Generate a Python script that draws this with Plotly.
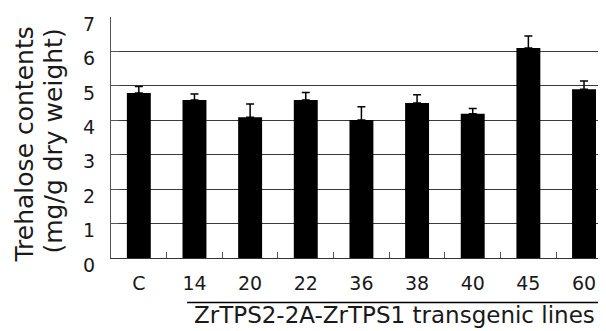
import plotly.graph_objects as go

categories = ["C", "14", "20", "22", "36", "38", "40", "45", "60"]
trehalose = [4.79, 4.59, 4.09, 4.59, 4.01, 4.50, 4.19, 6.10, 4.90]
errors = [0.19, 0.17, 0.38, 0.22, 0.38, 0.24, 0.15, 0.35, 0.24]
y_ticks = [0, 1, 2, 3, 4, 5, 6, 7]
group_label = "ZrTPS2-2A-ZrTPS1 transgenic lines"
y_title_1 = "Trehalose contents"
y_title_2 = "(mg/g dry weight)"

FONT = "DejaVu Sans"
TXT = "#1a1a1a"

fig = go.Figure()
fig.add_trace(go.Bar(
    x=list(range(len(categories))),
    y=trehalose,
    width=0.43,
    marker=dict(color="black", line=dict(width=0)),
    error_y=dict(type="data", array=errors, arrayminus=[0] * len(errors),
                 symmetric=False, color="black", thickness=1.5, width=4),
))

# page body has an 8px default margin, so the figure is 8px smaller
fig.update_layout(
    width=598, height=323,
    margin=dict(l=103, r=1, t=9, b=73, autoexpand=False),
    paper_bgcolor="white", plot_bgcolor="white",
    showlegend=False,
    font=dict(family=FONT, color=TXT, size=19),
)
fig.update_xaxes(
    range=[-0.5, 8.377], automargin=False,
    tickmode="array", tickvals=list(range(len(categories))), ticktext=categories,
    showgrid=False, showline=True, linecolor="#333", linewidth=1,
    ticks="", tickfont=dict(size=19, family=FONT, color=TXT),
    ticklabelstandoff=8, zeroline=False,
    minor=dict(tickmode="array",
               tickvals=[i + 0.5 for i in range(len(categories) - 1)],
               ticks="inside", ticklen=6, tickcolor="#555", tickwidth=1,
               showgrid=False),
)
fig.update_yaxes(
    range=[0, 7], automargin=False, tickmode="array", tickvals=y_ticks,
    showgrid=True, gridcolor="#3a3a3a", gridwidth=1,
    showline=True, linecolor="#555", linewidth=1,
    ticks="inside", ticklen=8, tickcolor="#555",
    tickfont=dict(size=19, family=FONT, color=TXT),
    ticklabelstandoff=11, ticklabelshift=7, ticklabeloverflow="allow", zeroline=False,
)

fig.add_annotation(text=y_title_1, textangle=-90, xref="paper", yref="paper",
                   x=0, y=0.5, xshift=-87, yshift=-7, xanchor="center", yanchor="middle",
                   showarrow=False, font=dict(size=25, family=FONT, color=TXT))
fig.add_annotation(text=y_title_2, textangle=-90, xref="paper", yref="paper",
                   x=0, y=0.5, xshift=-58, yshift=-4, xanchor="center", yanchor="middle",
                   showarrow=False, font=dict(size=25, family=FONT, color=TXT))

fig.add_shape(type="line", xref="x", yref="paper", x0=0.867, x1=8.305,
              y0=-0.185, y1=-0.185, line=dict(color="black", width=1.5))
fig.add_annotation(text=group_label, xref="x", yref="paper",
                   x=(0.867 + 8.305) / 2, y=-0.30, xanchor="center", yanchor="bottom",
                   showarrow=False, font=dict(size=23, family=FONT, color=TXT))

fig.write_html("out.html")
